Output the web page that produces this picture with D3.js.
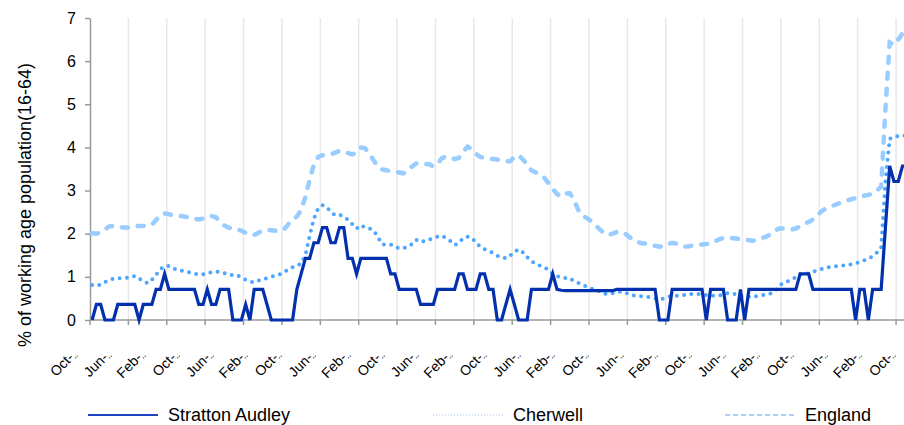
<!DOCTYPE html>
<meta charset="utf-8">
<style>
  body { margin: 0; background: #fff; }
  svg { display: block; font-family: Arial, "Liberation Sans", sans-serif; }
  .grid line { stroke: #e8e8e8; stroke-width: 1.5; }
  .axis path, .axis line { stroke: #9a9a9a; stroke-width: 1.5; }
  .axis text { fill: #000; font-size: 16px; }
  .xlabel { font-size: 14px; fill: #000; }
  .xlabel tspan { font-size: 9px; }
  .legend text { font-size: 18px; fill: #000; }
</style>
<body>
<script src="https://d3js.org/d3.v7.min.js"></script>
<script>
const width = 904;
const height = 425;

// monthly categories, Oct 2004 .. Oct 2020
const months = d3.timeMonth.range(new Date(2004, 9, 1), new Date(2020, 10, 1));

// every 8th month gets a label
const tickLabels = [
  'Oct-04', 'Jun-05', 'Feb-06', 'Oct-06', 'Jun-07', 'Feb-08', 'Oct-08', 'Jun-09', 'Feb-10',
  'Oct-10', 'Jun-11', 'Feb-12', 'Oct-12', 'Jun-13', 'Feb-14', 'Oct-14', 'Jun-15', 'Feb-16',
  'Oct-16', 'Jun-17', 'Feb-18', 'Oct-18', 'Jun-19', 'Feb-20', 'Oct-20'
];

const strattonAudley = [
  0, 0.36, 0.36, 0, 0, 0, 0.36, 0.36, 0.36, 0.36,
  0.36, 0, 0.36, 0.36, 0.36, 0.71, 0.71, 1.07, 0.71, 0.71,
  0.71, 0.71, 0.71, 0.71, 0.71, 0.36, 0.36, 0.71, 0.36, 0.36,
  0.71, 0.71, 0.71, 0, 0, 0, 0.36, 0, 0.71, 0.71,
  0.71, 0.36, 0, 0, 0, 0, 0, 0, 0.71, 1.07,
  1.43, 1.43, 1.79, 1.79, 2.14, 2.14, 1.79, 1.79, 2.14, 2.14,
  1.43, 1.43, 1.07, 1.43, 1.43, 1.43, 1.43, 1.43, 1.43, 1.43,
  1.07, 1.07, 0.71, 0.71, 0.71, 0.71, 0.71, 0.36, 0.36, 0.36,
  0.36, 0.71, 0.71, 0.71, 0.71, 0.71, 1.07, 1.07, 0.71, 0.71,
  0.71, 1.07, 1.07, 0.71, 0.71, 0, 0, 0.36, 0.71, 0.36,
  0, 0, 0, 0.71, 0.71, 0.71, 0.71, 0.71, 1.07, 0.71,
  0.69, 0.68, 0.68, 0.68, 0.68, 0.68, 0.68, 0.68, 0.68, 0.68,
  0.68, 0.68, 0.68, 0.71, 0.71, 0.71, 0.71, 0.71, 0.71, 0.71,
  0.71, 0.71, 0.71, 0, 0, 0, 0.71, 0.71, 0.71, 0.71,
  0.71, 0.71, 0.71, 0.71, 0, 0.71, 0.71, 0.71, 0.71, 0,
  0, 0, 0.71, 0, 0.71, 0.71, 0.71, 0.71, 0.71, 0.71,
  0.71, 0.71, 0.71, 0.71, 0.71, 0.71, 1.07, 1.07, 1.07, 0.71,
  0.71, 0.71, 0.71, 0.71, 0.71, 0.71, 0.71, 0.71, 0.71, 0,
  0.71, 0.71, 0, 0.71, 0.71, 0.71, 2.14, 3.57, 3.21, 3.21,
  3.57, 3.57, 3.57
];

const cherwell = [
  0.81, 0.79, 0.82, 0.88, 0.92, 0.96, 0.97, 0.97, 0.98, 0.98,
  1.02, 0.96, 0.90, 0.85, 0.93, 1.05, 1.18, 1.25, 1.25, 1.20,
  1.15, 1.14, 1.12, 1.10, 1.08, 1.05, 1.06, 1.08, 1.11, 1.12,
  1.11, 1.09, 1.05, 1.04, 1.04, 0.98, 0.93, 0.89, 0.87, 0.91,
  0.94, 0.97, 1.00, 1.03, 1.06, 1.10, 1.18, 1.22, 1.25, 1.31,
  1.50, 1.95, 2.35, 2.59, 2.66, 2.62, 2.50, 2.43, 2.44, 2.40,
  2.32, 2.22, 2.12, 2.20, 2.14, 2.12, 2.08, 1.92, 1.76, 1.74,
  1.75, 1.70, 1.66, 1.66, 1.70, 1.76, 1.86, 1.81, 1.83, 1.86,
  1.91, 1.93, 1.95, 1.90, 1.83, 1.74, 1.78, 1.90, 1.93, 1.91,
  1.80, 1.70, 1.64, 1.60, 1.55, 1.49, 1.45, 1.43, 1.49, 1.58,
  1.64, 1.57, 1.46, 1.36, 1.30, 1.26, 1.22, 1.16, 1.06, 1.02,
  0.98, 0.97, 0.97, 0.90, 0.86, 0.82, 0.77, 0.73, 0.69, 0.66,
  0.61, 0.60, 0.62, 0.65, 0.66, 0.63, 0.60, 0.57, 0.56, 0.55,
  0.54, 0.52, 0.50, 0.48, 0.50, 0.54, 0.55, 0.56, 0.57, 0.58,
  0.60, 0.60, 0.60, 0.60, 0.58, 0.57, 0.56, 0.57, 0.59, 0.62,
  0.62, 0.59, 0.56, 0.54, 0.54, 0.54, 0.56, 0.57, 0.59, 0.61,
  0.66, 0.78, 0.86, 0.89, 0.94, 0.99, 1.06, 1.07, 1.08, 1.12,
  1.15, 1.18, 1.21, 1.23, 1.24, 1.25, 1.26, 1.27, 1.29, 1.31,
  1.34, 1.38, 1.43, 1.47, 1.56, 1.68, 3.20, 4.20, 4.25, 4.26,
  4.27, 4.27, 4.25
];

const england = [
  2.01, 2.00, 2.03, 2.10, 2.17, 2.18, 2.17, 2.15, 2.14, 2.15,
  2.17, 2.18, 2.18, 2.18, 2.21, 2.32, 2.43, 2.47, 2.45, 2.43,
  2.42, 2.41, 2.39, 2.37, 2.35, 2.33, 2.35, 2.39, 2.41, 2.38,
  2.28, 2.19, 2.14, 2.12, 2.10, 2.07, 2.02, 1.98, 1.97, 2.02,
  2.07, 2.09, 2.08, 2.07, 2.06, 2.10, 2.22, 2.32, 2.40, 2.55,
  2.85, 3.25, 3.60, 3.78, 3.82, 3.82, 3.84, 3.88, 3.92, 3.90,
  3.87, 3.84, 3.88, 4.00, 3.98, 3.86, 3.70, 3.55, 3.49, 3.47,
  3.45, 3.44, 3.42, 3.40, 3.45, 3.56, 3.63, 3.63, 3.62, 3.61,
  3.56, 3.62, 3.75, 3.79, 3.76, 3.73, 3.76, 3.90, 4.02, 3.96,
  3.85, 3.78, 3.76, 3.74, 3.73, 3.72, 3.70, 3.68, 3.68, 3.78,
  3.82, 3.72, 3.60, 3.47, 3.42, 3.37, 3.30, 3.17, 3.04, 2.92,
  2.86, 2.93, 2.94, 2.78, 2.55, 2.42, 2.36, 2.29, 2.20, 2.10,
  2.02, 1.97, 2.00, 2.04, 2.05, 2.00, 1.92, 1.85, 1.80, 1.78,
  1.77, 1.75, 1.72, 1.70, 1.71, 1.76, 1.79, 1.77, 1.73, 1.70,
  1.71, 1.73, 1.74, 1.75, 1.76, 1.78, 1.82, 1.87, 1.90, 1.90,
  1.90, 1.89, 1.87, 1.86, 1.85, 1.84, 1.85, 1.90, 1.93, 1.98,
  2.06, 2.12, 2.12, 2.11, 2.10, 2.12, 2.17, 2.23, 2.27, 2.33,
  2.42, 2.52, 2.58, 2.62, 2.66, 2.70, 2.74, 2.77, 2.80, 2.82,
  2.85, 2.88, 2.90, 2.93, 3.00, 3.09, 4.90, 6.43, 6.38, 6.50,
  6.64, 6.66, 6.60
];

const seriesNames = ['Stratton Audley', 'Cherwell', 'England'];

const svg = d3.select('body')
  .append('svg')
  .attr('width', width)
  .attr('height', height);

// the plot runs past the right edge of the picture
const bw = 4.265;
const x = d3.scaleBand()
  .domain(months)
  .range([90, 90 + months.length * bw]);

const y = d3.scaleLinear()
  .domain([0, 7])
  .range([320, 18]);

const cx = i => x(months[i]) + x.bandwidth() / 2;

// vertical gridlines every 9 months
const gridIdx = d3.range(9, months.length, 9);
svg.append('g')
  .attr('class', 'grid')
  .selectAll('line')
  .data(gridIdx)
  .enter().append('line')
    .attr('x1', i => x(months[i]))
    .attr('x2', i => x(months[i]))
    .attr('y1', y(7))
    .attr('y2', y(0));

// y axis
svg.append('g')
  .attr('class', 'axis')
  .attr('transform', 'translate(90,0)')
  .call(d3.axisLeft(y).ticks(7).tickSize(5).tickSizeOuter(0).tickPadding(9))
  .call(g => g.selectAll('text').attr('font-family', null));

// x axis line and ticks
const xAxis = svg.append('g').attr('class', 'axis');
xAxis.append('line')
  .attr('x1', 90).attr('x2', width)
  .attr('y1', y(0)).attr('y2', y(0));
xAxis.selectAll('.xtick')
  .data([0].concat(gridIdx))
  .enter().append('line')
    .attr('class', 'xtick')
    .attr('x1', i => x(months[i]))
    .attr('x2', i => x(months[i]))
    .attr('y1', y(0))
    .attr('y2', y(0) + 5);

// rotated month labels, shortened
const xl = svg.append('g')
  .selectAll('text')
  .data(tickLabels)
  .enter().append('text')
    .attr('class', 'xlabel')
    .attr('text-anchor', 'end')
    .attr('transform', (d, j) => `translate(${cx(j * 8) - 14},355) rotate(-45)`)
    .text(d => d.slice(0, 4));
xl.append('tspan').text('\u2025');

// y title
svg.append('text')
  .attr('transform', 'translate(31,205) rotate(-90)')
  .attr('text-anchor', 'middle')
  .style('font-size', '18px')
  .text('% of working age population(16-64)');

const line = d3.line()
  .x((d, i) => cx(i))
  .y(d => y(d));

svg.append('path')
  .datum(england)
  .attr('fill', 'none')
  .attr('stroke', '#99ccff')
  .attr('stroke-width', 4.5)
  .attr('stroke-linecap', 'round')
  .attr('stroke-dasharray', '6,10')
  .attr('d', line);

svg.append('path')
  .datum(cherwell)
  .attr('fill', 'none')
  .attr('stroke', '#4da6ff')
  .attr('stroke-width', 4)
  .attr('stroke-linecap', 'round')
  .attr('stroke-dasharray', '0,7.3')
  .attr('d', line);

svg.append('path')
  .datum(strattonAudley)
  .attr('fill', 'none')
  .attr('stroke', '#0331ad')
  .attr('stroke-width', 3.2)
  .attr('stroke-linejoin', 'miter')
  .attr('d', line);

// legend
const legendX = [88, 433, 725];
const legendStyle = [
  {stroke: '#1f45c4', width: 2, dash: null},
  {stroke: '#c4defa', width: 1.5, dash: '1,2'},
  {stroke: '#a8d2fb', width: 2, dash: '5,3'}
];

const legend = svg.append('g')
  .attr('class', 'legend')
  .selectAll('g')
  .data(seriesNames)
  .enter().append('g')
    .attr('transform', (d, i) => `translate(${legendX[i]},415)`);

legend.append('line')
  .attr('x1', 0).attr('x2', 70)
  .attr('stroke', (d, i) => legendStyle[i].stroke)
  .attr('stroke-width', (d, i) => legendStyle[i].width)
  .attr('stroke-dasharray', (d, i) => legendStyle[i].dash);

legend.append('text')
  .attr('x', 80)
  .attr('y', 6)
  .text(d => d);
</script>
</body>
</html>
